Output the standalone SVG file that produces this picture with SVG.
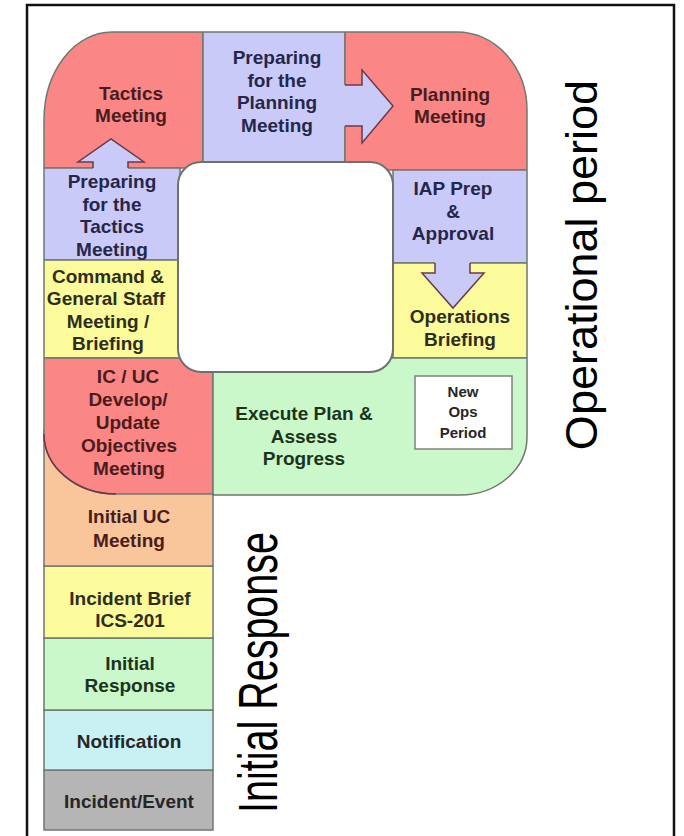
<svg xmlns="http://www.w3.org/2000/svg" width="684" height="836" viewBox="0 0 684 836">
<style>
.blk{stroke:#6f786f;stroke-width:1.5}
.red{fill:#fb8686}
.lav{fill:#cacaf8}
.yel{fill:#fbfb9c}
.grn{fill:#caf8ca}
.org{fill:#f9c59a}
.cyn{fill:#c9f0f2}
.gry{fill:#b5b5b5}
.t{font-family:"Liberation Sans",Arial,sans-serif;font-weight:bold;font-size:19px;text-anchor:middle}
.tr{fill:#4a1c1c}
.tl{fill:#26264a}
.ty{fill:#2e2e1a}
.tg{fill:#1c331c}
.tk{fill:#262626}
.big{font-family:"Liberation Sans",Arial,sans-serif;font-weight:normal;fill:#000;text-anchor:middle}
.arrfill{fill:#cacaf8;stroke:none}
.arrline{fill:none;stroke:#6a3a4a;stroke-width:1.5;stroke-linejoin:miter}
</style>
<defs>
<clipPath id="pclip">
<path d="M44,120 A68,88 0 0 1 112,32 L457,32 A70,78 0 0 1 527,110 L527,437 A67,58 0 0 1 460,495 L213,495 L213,494 L116,494 A72,60 0 0 1 44,434 Z"/>
</clipPath>
</defs>
<rect x="0" y="0" width="684" height="836" fill="#ffffff"/>
<path d="M27,836 V5 H674 V836" fill="none" stroke="#111" stroke-width="2.5"/>

<g id="incident-event"><rect class="blk gry" x="44" y="770" width="169" height="60"/><text class="t tk" x="129" y="808">Incident/Event</text></g>
<g id="notification"><rect class="blk cyn" x="44" y="710" width="169" height="60"/><text class="t tk" x="129" y="748">Notification</text></g>
<g id="initial-response"><rect class="blk grn" x="44" y="638" width="169" height="72"/><text class="t tg" x="130" y="670">Initial</text><text class="t tg" x="130" y="692">Response</text></g>
<g id="incident-brief"><rect class="blk yel" x="44" y="566" width="169" height="72"/><text class="t ty" x="130" y="605">Incident Brief</text><text class="t ty" x="130" y="627">ICS-201</text></g>
<g id="initial-uc"><rect class="blk org" x="44" y="430" width="169" height="136"/><text class="t tr" x="129" y="523">Initial UC</text><text class="t tr" x="129" y="547">Meeting</text></g>

<g clip-path="url(#pclip)">
<g id="tactics-meeting"><rect class="blk red" x="40" y="28" width="163" height="140"/></g>
<g id="prep-planning"><rect class="blk lav" x="203" y="28" width="142" height="140"/></g>
<g id="planning-meeting"><rect class="blk red" x="345" y="28" width="186" height="142"/></g>
<g id="prep-tactics"><rect class="blk lav" x="40" y="168" width="140" height="92"/></g>
<g id="command-staff"><rect class="blk yel" x="40" y="260" width="140" height="98"/></g>
<g id="icuc-objectives"><rect class="blk red" x="40" y="358" width="173" height="140"/></g>
<g id="iap-prep"><rect class="blk lav" x="393" y="170" width="138" height="93"/></g>
<g id="ops-briefing"><rect class="blk yel" x="393" y="263" width="138" height="95"/></g>
<g id="execute-plan"><rect class="blk grn" x="213" y="358" width="318" height="140"/></g>
</g>
<path d="M44,120 A68,88 0 0 1 112,32 L457,32 A70,78 0 0 1 527,110 L527,437 A67,58 0 0 1 460,495 L213,495 L213,494 L116,494 A72,60 0 0 1 44,434 Z" fill="none" stroke="#6f786f" stroke-width="1.5"/>
<path d="M213,494 A72,60 0 0 1 44,434" fill="none" stroke="none"/>
<path d="M116,494 A72,60 0 0 1 44,434" fill="none" stroke="#6a3a4a" stroke-width="1.5"/>

<rect id="center-hole" x="178" y="162" width="215" height="210" rx="23" ry="23" fill="#ffffff" stroke="#707070" stroke-width="2"/>

<g id="connectors">
<path class="arrfill" d="M93,171 V162 H78 L111,139 L144,162 H128 V171 Z"/>
<path class="arrline" d="M93,168 V162 H78 L111,139 L144,162 H128 V168"/>
<path class="arrfill" d="M342,85 H362 V70 L393,106 L362,143 V126 H342 Z"/>
<path class="arrline" d="M345,85 H362 V70 L393,106 L362,143 V126 H345"/>
<path class="arrfill" d="M435,260 V273 H422 L453,308 L484,273 H470 V260 Z"/>
<path class="arrline" d="M435,263 V273 H422 L453,308 L484,273 H470 V263"/>
</g>

<g id="labels">
<text class="t tr" x="131" y="100">Tactics</text><text class="t tr" x="131" y="122">Meeting</text>
<text class="t tl" x="277" y="64">Preparing</text><text class="t tl" x="277" y="86.5">for the</text><text class="t tl" x="277" y="109">Planning</text><text class="t tl" x="277" y="131.5">Meeting</text>
<text class="t tr" x="450" y="101">Planning</text><text class="t tr" x="450" y="123">Meeting</text>
<text class="t tl" x="112" y="188">Preparing</text><text class="t tl" x="112" y="210.5">for the</text><text class="t tl" x="112" y="233">Tactics</text><text class="t tl" x="112" y="255.5">Meeting</text>
<text class="t ty" x="108" y="283">Command &amp;</text><text class="t ty" x="106" y="305">General Staff</text><text class="t ty" x="108" y="327.5">Meeting /</text><text class="t ty" x="108" y="350">Briefing</text>
<text class="t tr" x="128" y="383">IC / UC</text><text class="t tr" x="128" y="406">Develop/</text><text class="t tr" x="128" y="429">Update</text><text class="t tr" x="129" y="452">Objectives</text><text class="t tr" x="129" y="475">Meeting</text>
<text class="t tl" x="453" y="195">IAP Prep</text><text class="t tl" x="453" y="217.5">&amp;</text><text class="t tl" x="453" y="240">Approval</text>
<text class="t ty" x="460" y="323">Operations</text><text class="t ty" x="460" y="346">Briefing</text>
<text class="t tg" x="304" y="420">Execute Plan &amp;</text><text class="t tg" x="304" y="442.5">Assess</text><text class="t tg" x="304" y="465">Progress</text>
</g>

<g id="new-ops-period">
<rect x="415" y="376" width="97" height="73" fill="#ffffff" stroke="#808080" stroke-width="1.5"/>
<text class="t tk" style="font-size:15px" x="463" y="397">New</text><text class="t tk" style="font-size:15px" x="463" y="417">Ops</text><text class="t tk" style="font-size:15px" x="463" y="438">Period</text>
</g>

<text class="big" font-size="45" transform="translate(597,265) rotate(-90)">Operational period</text>
<text class="big" font-size="55" textLength="281" lengthAdjust="spacingAndGlyphs" transform="translate(277,672.5) rotate(-90)">Initial Response</text>
</svg>
